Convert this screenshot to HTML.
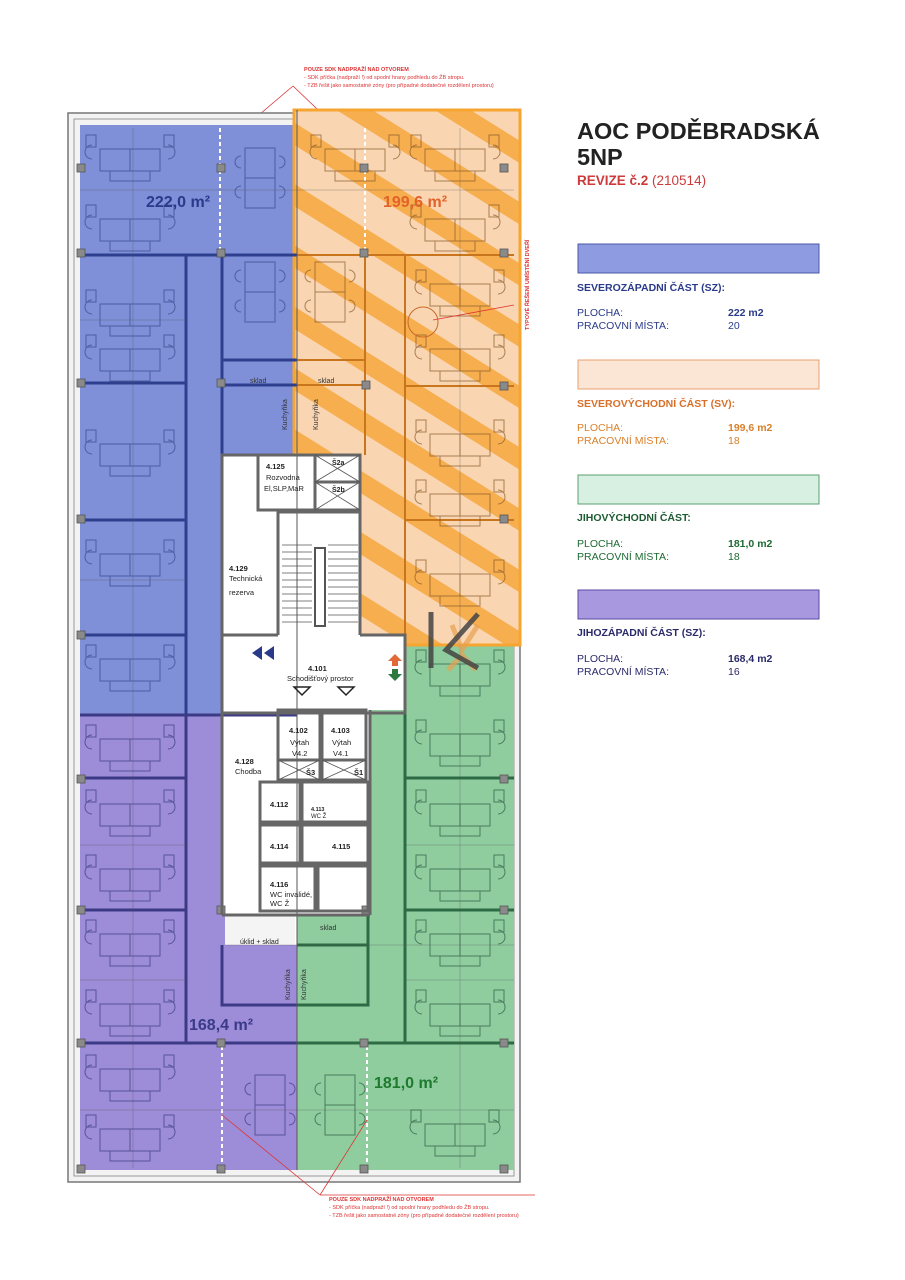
<!DOCTYPE html>
<html><head><meta charset="utf-8"><style>
html,body{margin:0;padding:0;background:#fff;}
svg{display:block;font-family:"Liberation Sans",sans-serif;}
</style></head><body>
<svg width="905" height="1280" viewBox="0 0 905 1280" xmlns="http://www.w3.org/2000/svg">
<defs>
<pattern id="st" patternUnits="userSpaceOnUse" width="60" height="52" patternTransform="rotate(32)">
<rect width="60" height="52" fill="#f9d5b2"/>
<rect y="0" width="60" height="19" fill="#f7ae4e"/>
</pattern>
<g id="dk" fill="none" stroke-width="1">
<rect x="0" y="14" width="30" height="22"/><rect x="30" y="14" width="30" height="22"/>
<rect x="10" y="36" width="40" height="10"/>
<path d="M-8 10 a7 7 0 1 0 0 14"/><path d="M68 10 a7 7 0 1 1 0 14"/>
<rect x="-14" y="0" width="10" height="12"/><rect x="64" y="0" width="10" height="12"/>
</g>
<g id="tb" fill="none" stroke-width="1">
<rect x="0" y="0" width="30" height="60"/><line x1="0" y1="30" x2="30" y2="30"/>
<path d="M-4 8 a6 6 0 0 0 0 12 M-4 38 a6 6 0 0 0 0 12 M34 8 a6 6 0 0 1 0 12 M34 38 a6 6 0 0 1 0 12"/>
</g>
</defs>

<g fill="#d33" font-size="5.5">
<text x="304" y="71" font-weight="bold">POUZE SDK NADPRAŽÍ NAD OTVOREM</text>
<text x="304" y="79">- SDK příčka (nadpraží !) od spodní hrany podhledu do ŽB stropu.</text>
<text x="304" y="87">- TZB řešit jako samostatné zóny (pro případné dodatečné rozdělení prostoru)</text>
</g>
<line x1="293" y1="86" x2="220" y2="148" stroke="#d33" stroke-width="0.8"/>
<line x1="293" y1="86" x2="360" y2="150" stroke="#d33" stroke-width="0.8"/>

<rect x="68" y="113" width="452" height="1069" fill="#f3f3f3" stroke="#777" stroke-width="1.5"/>
<rect x="74" y="119" width="440" height="1057" fill="none" stroke="#999" stroke-width="1"/>

<rect x="80" y="125" width="217" height="590" fill="#7f8fd8"/>
<rect x="80" y="715" width="217" height="455" fill="#9d8dd8"/>
<polygon points="405,645 514,645 514,1170 297,1170 297,915 370,915 370,705 405,705" fill="#8fcd9f"/>
<polygon points="294,110 520,110 520,645 405,645 405,635 360,635 360,455 294,455" fill="url(#st)"/>
<rect x="294" y="110" width="226" height="535" fill="none" stroke="#f5a530" stroke-width="3"/>
<polygon points="222,455 360,455 360,635 405,635 405,710 370,710 370,915 297,915 297,945 225,945 225,915 222,915" fill="#fff"/>
<rect x="225" y="915" width="70" height="30" fill="#f4f4f4"/>

<g stroke="#2e3f8e" stroke-width="3" fill="none">
<line x1="80" y1="255" x2="297" y2="255"/>
<line x1="80" y1="383" x2="185" y2="383"/>
<line x1="80" y1="520" x2="185" y2="520"/>
<line x1="80" y1="635" x2="185" y2="635"/>
<line x1="186" y1="255" x2="186" y2="715"/>
<line x1="222" y1="255" x2="222" y2="455"/>
<line x1="222" y1="360" x2="297" y2="360"/>
<line x1="222" y1="385" x2="297" y2="385"/>
</g>
<g stroke="#3c3a85" stroke-width="3" fill="none">
<line x1="80" y1="715" x2="297" y2="715"/>
<line x1="80" y1="778" x2="185" y2="778"/>
<line x1="80" y1="910" x2="185" y2="910"/>
<line x1="80" y1="1043" x2="297" y2="1043"/>
<line x1="186" y1="715" x2="186" y2="1043"/>
<polyline points="222,945 222,1005 297,1005"/>
</g>
<g stroke="#2d6b44" stroke-width="3" fill="none">
<line x1="405" y1="705" x2="405" y2="1043"/>
<line x1="405" y1="778" x2="514" y2="778"/>
<line x1="405" y1="910" x2="514" y2="910"/>
<line x1="297" y1="1043" x2="514" y2="1043"/>
<polyline points="297,945 368,945 368,1005 297,1005"/>
<line x1="368" y1="915" x2="368" y2="1005"/>
</g>
<g stroke="#c9751d" stroke-width="2" fill="none">
<line x1="297" y1="255" x2="514" y2="255"/>
<line x1="405" y1="255" x2="405" y2="635"/>
<line x1="405" y1="386" x2="514" y2="386"/>
<line x1="405" y1="520" x2="514" y2="520"/>
<line x1="365" y1="255" x2="365" y2="455"/>
<line x1="297" y1="360" x2="365" y2="360"/>
<line x1="297" y1="385" x2="365" y2="385"/>
</g>
<line x1="297" y1="110" x2="297" y2="1170" stroke="#555" stroke-width="1"/>
<g stroke="#fff" stroke-width="2" stroke-dasharray="4 3">
<line x1="220" y1="128" x2="220" y2="252"/><line x1="365" y1="128" x2="365" y2="252"/>
<line x1="222" y1="1046" x2="222" y2="1168"/><line x1="367" y1="1046" x2="367" y2="1168"/>
</g>
<g stroke="#555" stroke-width="0.5" opacity="0.6">
<line x1="80" y1="190" x2="514" y2="190"/><line x1="80" y1="1110" x2="514" y2="1110"/>
<line x1="80" y1="320" x2="185" y2="320"/><line x1="80" y1="580" x2="185" y2="580"/>
<line x1="80" y1="845" x2="185" y2="845"/><line x1="80" y1="980" x2="185" y2="980"/>
<line x1="405" y1="845" x2="514" y2="845"/><line x1="405" y1="980" x2="514" y2="980"/>
<line x1="225" y1="945" x2="514" y2="945"/>
<line x1="133" y1="128" x2="133" y2="1168"/>
<line x1="460" y1="128" x2="460" y2="640"/><line x1="460" y1="645" x2="460" y2="1168"/>
</g>

<g stroke="#3a4a88" opacity="0.7">
<use href="#dk" x="100" y="135"/><use href="#dk" x="100" y="205"/>
<use href="#dk" x="100" y="290"/><use href="#dk" x="100" y="335"/>
<use href="#dk" x="100" y="430"/><use href="#dk" x="100" y="540"/>
<use href="#dk" x="100" y="645"/>
<use href="#tb" x="245" y="148"/><use href="#tb" x="245" y="262"/>
</g>
<g stroke="#8a5a2a" opacity="0.7">
<use href="#dk" x="325" y="135"/><use href="#dk" x="425" y="135"/><use href="#dk" x="425" y="205"/>
<use href="#dk" x="430" y="270"/><use href="#dk" x="430" y="335"/>
<use href="#dk" x="430" y="420"/><use href="#dk" x="430" y="480"/><use href="#dk" x="430" y="560"/>
<use href="#tb" x="315" y="262"/>
</g>
<g stroke="#2d5a3e" opacity="0.7">
<use href="#dk" x="430" y="650"/><use href="#dk" x="430" y="720"/><use href="#dk" x="430" y="790"/>
<use href="#dk" x="430" y="855"/><use href="#dk" x="430" y="920"/><use href="#dk" x="430" y="990"/>
<use href="#dk" x="425" y="1110"/><use href="#tb" x="325" y="1075"/>
</g>
<g stroke="#3c3a80" opacity="0.7">
<use href="#dk" x="100" y="725"/><use href="#dk" x="100" y="790"/><use href="#dk" x="100" y="855"/>
<use href="#dk" x="100" y="920"/><use href="#dk" x="100" y="990"/>
<use href="#dk" x="100" y="1055"/><use href="#dk" x="100" y="1115"/><use href="#tb" x="255" y="1075"/>
</g>

<g fill="#8a8a8a" stroke="#555" stroke-width="0.8">
<rect x="77" y="164" width="8" height="8"/><rect x="217" y="164" width="8" height="8"/><rect x="360" y="164" width="8" height="8"/><rect x="500" y="164" width="8" height="8"/>
<rect x="77" y="249" width="8" height="8"/><rect x="217" y="249" width="8" height="8"/><rect x="360" y="249" width="8" height="8"/><rect x="500" y="249" width="8" height="8"/>
<rect x="77" y="379" width="8" height="8"/><rect x="217" y="379" width="8" height="8"/><rect x="362" y="381" width="8" height="8"/><rect x="500" y="382" width="8" height="8"/>
<rect x="77" y="515" width="8" height="8"/><rect x="500" y="515" width="8" height="8"/>
<rect x="77" y="631" width="8" height="8"/><rect x="77" y="775" width="8" height="8"/><rect x="500" y="775" width="8" height="8"/>
<rect x="77" y="906" width="8" height="8"/><rect x="500" y="906" width="8" height="8"/><rect x="217" y="906" width="8" height="8"/><rect x="362" y="906" width="8" height="8"/>
<rect x="77" y="1039" width="8" height="8"/><rect x="217" y="1039" width="8" height="8"/><rect x="360" y="1039" width="8" height="8"/><rect x="500" y="1039" width="8" height="8"/>
<rect x="77" y="1165" width="8" height="8"/><rect x="217" y="1165" width="8" height="8"/><rect x="360" y="1165" width="8" height="8"/><rect x="500" y="1165" width="8" height="8"/>
</g>

<g stroke="#666" stroke-width="3" fill="none">
<polyline points="360,635 405,635 405,713 222,713 222,455 360,455 360,635"/>
<rect x="258" y="455" width="102" height="55"/>
<line x1="315" y1="455" x2="315" y2="510"/><line x1="315" y1="482" x2="360" y2="482"/>
<polyline points="278,635 278,512 360,512"/>
<line x1="222" y1="635" x2="278" y2="635"/>
<rect x="278" y="710" width="42" height="50"/><rect x="322" y="710" width="44" height="50"/>
<rect x="278" y="760" width="42" height="20"/><rect x="322" y="760" width="44" height="20"/>
<rect x="260" y="782" width="40" height="40"/><rect x="302" y="782" width="66" height="40"/>
<rect x="260" y="825" width="40" height="38"/><rect x="302" y="825" width="66" height="38"/>
<rect x="260" y="866" width="55" height="45"/><rect x="318" y="866" width="50" height="45"/>
<line x1="222" y1="710" x2="222" y2="915"/><line x1="370" y1="710" x2="370" y2="915"/>
<line x1="222" y1="915" x2="370" y2="915"/>
</g>
<g stroke="#555" stroke-width="0.8" fill="none">
<line x1="315" y1="455" x2="360" y2="482"/><line x1="360" y1="455" x2="315" y2="482"/>
<line x1="315" y1="482" x2="360" y2="510"/><line x1="360" y1="482" x2="315" y2="510"/>
<line x1="278" y1="760" x2="320" y2="780"/><line x1="320" y1="760" x2="278" y2="780"/>
<line x1="322" y1="760" x2="366" y2="780"/><line x1="366" y1="760" x2="322" y2="780"/>
<rect x="315" y="548" width="10" height="78" stroke-width="2"/>
<path d="M282 545 H312 M282 552 H312 M282 559 H312 M282 566 H312 M282 573 H312 M282 580 H312 M282 587 H312 M282 594 H312 M282 601 H312 M282 608 H312 M282 615 H312 M282 622 H312"/>
<path d="M328 545 H358 M328 552 H358 M328 559 H358 M328 566 H358 M328 573 H358 M328 580 H358 M328 587 H358 M328 594 H358 M328 601 H358 M328 608 H358 M328 615 H358 M328 622 H358"/>
</g>
<g fill="#2a3a8a"><polygon points="252,653 262,646 262,660"/><polygon points="264,653 274,646 274,660"/></g>
<polygon points="388,661 395,654 402,661 398,661 398,666 392,666 392,661" fill="#e06a3a"/>
<polygon points="388,674 395,681 402,674 398,674 398,669 392,669 392,674" fill="#2e7a3e"/>
<g fill="none" stroke="#222" stroke-width="1.5">
<polygon points="294,687 310,687 302,695"/><polygon points="338,687 354,687 346,695"/>
</g>
<g stroke="#e8a050" stroke-width="5" fill="none" opacity="0.7">
<polyline points="452,625 462,650 478,625"/><polyline points="448,670 462,655 476,670"/>
</g>
<g stroke="#444" stroke-width="5" fill="none" opacity="0.85">
<line x1="431" y1="612" x2="431" y2="668"/><polyline points="478,614 446,650 478,668"/>
</g>

<g font-size="7.5" fill="#222">
<text x="266" y="469" font-weight="bold">4.125</text><text x="266" y="480">Rozvodna</text><text x="264" y="491">El,SLP,MaR</text>
<text x="332" y="465" font-weight="bold" font-size="7">Š2a</text><text x="332" y="492" font-weight="bold" font-size="7">Š2b</text>
<text x="229" y="571" font-weight="bold">4.129</text><text x="229" y="581">Technická</text><text x="229" y="595">rezerva</text>
<text x="308" y="671" font-weight="bold">4.101</text><text x="287" y="681">Schodišťový prostor</text>
<text x="289" y="733" font-weight="bold">4.102</text><text x="290" y="745">Výtah</text><text x="292" y="756">V4.2</text>
<text x="331" y="733" font-weight="bold">4.103</text><text x="332" y="745">Výtah</text><text x="333" y="756">V4.1</text>
<text x="306" y="775" font-weight="bold">Š3</text><text x="354" y="775" font-weight="bold">Š1</text>
<text x="235" y="764" font-weight="bold">4.128</text><text x="235" y="774">Chodba</text>
<text x="270" y="807" font-weight="bold">4.112</text>
<text x="311" y="811" font-size="5.5" font-weight="bold">4.113</text><text x="311" y="818" font-size="6">WC Ž</text>
<text x="270" y="849" font-weight="bold">4.114</text><text x="332" y="849" font-weight="bold">4.115</text>
<text x="270" y="887" font-weight="bold">4.116</text><text x="270" y="897">WC invalidé,</text><text x="270" y="906">WC Ž</text>
<text x="240" y="944" font-size="7">úklid + sklad</text>
</g>
<g font-size="7" fill="#333">
<text x="250" y="383">sklad</text><text x="318" y="383">sklad</text><text x="320" y="930">sklad</text>
<text transform="translate(287,430) rotate(-90)">Kuchyňka</text>
<text transform="translate(318,430) rotate(-90)">Kuchyňka</text>
<text transform="translate(290,1000) rotate(-90)">Kuchyňka</text>
<text transform="translate(306,1000) rotate(-90)">Kuchyňka</text>
</g>

<g font-weight="bold" font-size="16">
<text x="146" y="207" fill="#2a3a8a">222,0 m²</text>
<text x="383" y="207" fill="#e2622a">199,6 m²</text>
<text x="189" y="1030" fill="#3a3a88">168,4 m²</text>
<text x="374" y="1088" fill="#1e7a2e">181,0 m²</text>
</g>
<text transform="translate(529,330) rotate(-90)" font-size="5.5" fill="#d33" font-weight="bold">TYPOVÉ ŘEŠENÍ UMÍSTĚNÍ DVEŘÍ</text>
<line x1="433" y1="320" x2="514" y2="305" stroke="#d33" stroke-width="0.8"/>
<circle cx="423" cy="322" r="15" fill="none" stroke="#c96a2a" stroke-width="1"/>

<line x1="222" y1="1115" x2="320" y2="1195" stroke="#d33" stroke-width="0.8"/>
<line x1="367" y1="1120" x2="320" y2="1195" stroke="#d33" stroke-width="0.8"/>
<line x1="320" y1="1195" x2="535" y2="1195" stroke="#d33" stroke-width="0.8"/>
<g fill="#d33" font-size="5.5">
<text x="329" y="1201" font-weight="bold">POUZE SDK NADPRAŽÍ NAD OTVOREM</text>
<text x="329" y="1209">- SDK příčka (nadpraží !) od spodní hrany podhledu do ŽB stropu.</text>
<text x="329" y="1217">- TZB řešit jako samostatné zóny (pro případné dodatečné rozdělení prostoru)</text>
</g>

<text x="577" y="139" font-size="23.5" font-weight="bold" fill="#222">AOC PODĚBRADSKÁ</text>
<text x="577" y="165" font-size="23.5" font-weight="bold" fill="#222">5NP</text>
<text x="577" y="185" font-size="13.5" fill="#cc3b3b"><tspan font-weight="bold">REVIZE č.2</tspan> (210514)</text>

<rect x="578" y="244" width="241" height="29" fill="#8f9be0" stroke="#4a5aa8"/>
<text x="577" y="291" font-size="10.5" font-weight="bold" fill="#2a3a8a">SEVEROZÁPADNÍ ČÁST (SZ):</text>
<g font-size="10.5" fill="#2a3a8a"><text x="577" y="316">PLOCHA:</text><text x="577" y="329">PRACOVNÍ MÍSTA:</text>
<text x="728" y="316" font-weight="bold">222 m2</text><text x="728" y="329">20</text></g>

<rect x="578" y="360" width="241" height="29" fill="#fbe6d6" stroke="#e8a070"/>
<text x="577" y="407" font-size="10.5" font-weight="bold" fill="#d8702a">SEVEROVÝCHODNÍ ČÁST (SV):</text>
<g font-size="10.5" fill="#d8802a"><text x="577" y="431">PLOCHA:</text><text x="577" y="444">PRACOVNÍ MÍSTA:</text>
<text x="728" y="431" font-weight="bold">199,6 m2</text><text x="728" y="444">18</text></g>

<rect x="578" y="475" width="241" height="29" fill="#d8f0e2" stroke="#5aa070"/>
<text x="577" y="521" font-size="10.5" font-weight="bold" fill="#1e5a32">JIHOVÝCHODNÍ ČÁST:</text>
<g font-size="10.5" fill="#1e6a32"><text x="577" y="547">PLOCHA:</text><text x="577" y="560">PRACOVNÍ MÍSTA:</text>
<text x="728" y="547" font-weight="bold">181,0 m2</text><text x="728" y="560">18</text></g>

<rect x="578" y="590" width="241" height="29" fill="#a898e0" stroke="#5a4aa0"/>
<text x="577" y="636" font-size="10.5" font-weight="bold" fill="#2a2a6a">JIHOZÁPADNÍ ČÁST (SZ):</text>
<g font-size="10.5" fill="#2a2a6a"><text x="577" y="662">PLOCHA:</text><text x="577" y="675">PRACOVNÍ MÍSTA:</text>
<text x="728" y="662" font-weight="bold">168,4 m2</text><text x="728" y="675">16</text></g>
</svg>
</body></html>
